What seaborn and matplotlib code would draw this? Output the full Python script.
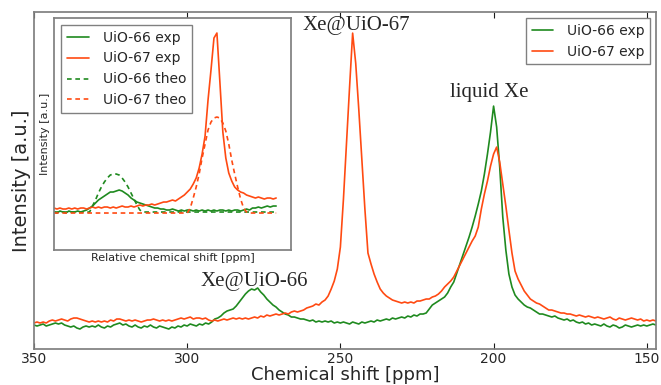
import numpy as np
import seaborn as sns
import matplotlib.pyplot as plt

# main spectra, one value per ppm from 350 down to 147
ppm = np.arange(350, 146, -1)
uio66_exp = [
    24, 23, 24, 25, 23, 24, 25, 26, 25, 26,
    24, 23, 22, 23, 21, 20, 22, 23, 22, 23,
    22, 24, 22, 21, 23, 22, 24, 25, 26, 24,
    25, 23, 22, 24, 22, 21, 23, 22, 24, 22,
    21, 23, 22, 21, 20, 22, 21, 23, 22, 24,
    23, 25, 24, 23, 25, 24, 26, 25, 27, 30,
    31, 33, 36, 38, 39, 40, 43, 47, 51, 55,
    58, 60, 59, 61, 57, 54, 50, 47, 44, 42,
    39, 37, 35, 34, 32, 32, 31, 30, 30, 29,
    28, 29, 27, 28, 27, 28, 27, 28, 26, 27,
    26, 27, 26, 25, 27, 26, 25, 27, 26, 27,
    28, 27, 29, 28, 29, 30, 29, 31, 30, 31,
    32, 31, 33, 32, 34, 33, 35, 35, 36, 40,
    44, 46, 48, 50, 52, 56, 62, 67, 76, 85,
    94, 103, 112, 122, 133, 145, 158, 175, 195, 217,
    243, 222, 182, 132, 99, 75, 62, 54, 50, 47,
    44, 42, 41, 39, 37, 35, 35, 34, 33, 32,
    33, 31, 30, 29, 30, 28, 29, 27, 26, 27,
    25, 26, 24, 25, 24, 23, 25, 23, 22, 24,
    23, 21, 22, 24, 23, 22, 23, 24, 23, 24,
    23, 24, 25, 24,
]
uio67_exp = [
    26, 27, 26, 27, 26, 28, 29, 28, 29, 30,
    29, 28, 30, 31, 31, 30, 29, 28, 27, 28,
    27, 28, 27, 28, 27, 29, 28, 30, 30, 29,
    28, 29, 28, 29, 28, 27, 28, 29, 29, 30,
    29, 28, 29, 28, 29, 28, 29, 30, 31, 30,
    31, 32, 30, 31, 31, 30, 31, 29, 28, 29,
    28, 29, 30, 29, 30, 31, 30, 31, 30, 31,
    30, 31, 32, 31, 33, 32, 34, 33, 34, 35,
    34, 35, 36, 35, 37, 38, 37, 38, 39, 41,
    42, 43, 45, 44, 47, 49, 53, 60, 68, 80,
    102, 150, 205, 262, 316, 286, 240, 190, 140, 96,
    85, 75, 67, 60, 56, 53, 51, 49, 48, 47,
    46, 47, 46, 47, 46, 48, 48, 49, 50, 50,
    52, 53, 55, 58, 62, 65, 68, 72, 78, 84,
    90, 96, 102, 108, 113, 122, 140, 155, 168, 183,
    195, 202, 187, 165, 143, 119, 96, 78, 70, 64,
    58, 54, 50, 48, 46, 45, 43, 41, 39, 39,
    38, 37, 36, 36, 35, 35, 34, 33, 34, 33,
    32, 33, 32, 31, 32, 31, 30, 31, 32, 30,
    29, 31, 30, 29, 30, 31, 30, 29, 30, 28,
    29, 28, 29, 28,
]

# inset spectra on a relative shift axis
rel_shift = np.arange(0, 76)
inset_66_exp = [
    38, 37, 39, 38, 37, 39, 38, 38, 39, 38,
    39, 40, 42, 44, 47, 50, 52, 54, 56, 58,
    58, 59, 60, 59, 57, 55, 52, 50, 48, 47,
    46, 45, 44, 43, 42, 42, 41, 41, 40, 40,
    41, 40, 39, 40, 39, 40, 40, 39, 40, 39,
    40, 39, 40, 39, 40, 39, 40, 40, 39, 40,
    39, 40, 40, 39, 40, 41, 40, 42, 42, 43,
    42, 43, 44, 43, 44, 44,
]
inset_67_exp = [
    42, 41, 42, 41, 41, 42, 41, 42, 41, 42,
    42, 41, 42, 43, 42, 43, 42, 43, 43, 42,
    43, 42, 43, 44, 43, 43, 44, 43, 44, 45,
    44, 45, 45, 46, 45, 46, 47, 48, 48, 49,
    50, 49, 51, 53, 55, 58, 61, 66, 72, 82,
    96, 114, 150, 180, 212, 217, 168, 118, 92, 77,
    69, 63, 60, 58, 57, 55, 54, 53, 52, 53,
    52, 51, 52, 52, 51, 52,
]
inset_66_theo = [
    38, 38, 38, 38, 38, 38, 38, 38, 38, 38,
    38, 38, 38, 44, 50, 57, 63, 68, 72, 75,
    76, 76, 75, 72, 68, 63, 57, 51, 45, 40,
    38, 38, 38, 38, 38, 38, 38, 38, 38, 38,
    38, 38, 38, 38, 38, 38, 38, 38, 38, 38,
    38, 38, 38, 38, 38, 38, 38, 38, 38, 38,
    38, 38, 38, 38, 38, 38, 38, 38, 38, 38,
    38, 38, 38, 38, 38, 38,
]
inset_67_theo = [
    37, 37, 37, 37, 37, 37, 37, 37, 37, 37,
    37, 37, 37, 37, 37, 37, 37, 37, 37, 37,
    37, 37, 37, 37, 37, 37, 37, 37, 37, 37,
    37, 37, 37, 37, 37, 37, 37, 37, 37, 37,
    37, 37, 37, 37, 37, 37, 42, 52, 63, 76,
    92, 106, 120, 128, 132, 133, 132, 127, 119, 106,
    90, 76, 63, 51, 42, 38, 37, 37, 37, 37,
    37, 37, 37, 37, 37, 37,
]

green = '#1f8a1f'
orange = '#ff4a12'
edge = '#808080'

sns.set_theme(style="white")
plt.rcParams['font.family'] = 'DejaVu Sans'

fig = plt.figure(figsize=(6.61, 3.85), dpi=100)
ax = fig.add_axes([0.0514, 0.0935, 0.941, 0.875])

sns.lineplot(x=ppm, y=uio66_exp, color=green, lw=1.2, label='UiO-66 exp', ax=ax)
sns.lineplot(x=ppm, y=uio67_exp, color=orange, lw=1.2, label='UiO-67 exp', ax=ax)

ax.set_xlim(350, 147)
ax.set_ylim(0, 337)
ax.set_xticks([350, 300, 250, 200, 150])
ax.set_yticks([])
ax.tick_params(axis='x', direction='in', top=True, bottom=True, length=4,
               width=0.8, color='k', labelsize=10, pad=2.5)
for s in ax.spines.values():
    s.set_color(edge)
ax.set_xlabel('Chemical shift [ppm]', fontsize=13, labelpad=-0.5)
ax.set_ylabel('Intensity [a.u.]', fontsize=14, labelpad=2)
ax.legend(loc='upper right', fontsize=10, handlelength=1.5, handletextpad=1.0,
          fancybox=False, edgecolor=edge, framealpha=1, borderaxespad=0.45)

serif = dict(family='Liberation Serif', fontsize=15, ha='center', va='baseline')
ax.text(244.8, 319, 'Xe@UiO-67', **serif)
ax.text(201.3, 252, 'liquid Xe', **serif)
ax.text(278, 63, 'Xe@UiO-66', **serif)

# inset
axin = fig.add_axes([0.0817, 0.3506, 0.3585, 0.6026])
sns.lineplot(x=rel_shift, y=inset_66_exp, color=green, lw=1.2, label='UiO-66 exp', ax=axin)
sns.lineplot(x=rel_shift, y=inset_67_exp, color=orange, lw=1.2, label='UiO-67 exp', ax=axin)
sns.lineplot(x=rel_shift, y=inset_66_theo, color=green, lw=1.2, linestyle=(0, (2.8, 2.2)),
             label='UiO-66 theo', ax=axin)
sns.lineplot(x=rel_shift, y=inset_67_theo, color=orange, lw=1.2, linestyle=(0, (2.8, 2.2)),
             label='UiO-67 theo', ax=axin)
axin.set_xlim(0, 80)
axin.set_ylim(0, 232)
axin.set_xticks([])
axin.set_yticks([])
for s in axin.spines.values():
    s.set_color(edge)
axin.set_xlabel('Relative chemical shift [ppm]', fontsize=8, labelpad=2)
axin.set_ylabel('Intensity [a.u.]', fontsize=8, labelpad=3)
axin.legend(loc='upper left', fontsize=10, handlelength=1.6, handletextpad=1.0,
            fancybox=False, edgecolor=edge, framealpha=1, borderaxespad=0.5)

fig.savefig('out.png', dpi=100, facecolor='white')
